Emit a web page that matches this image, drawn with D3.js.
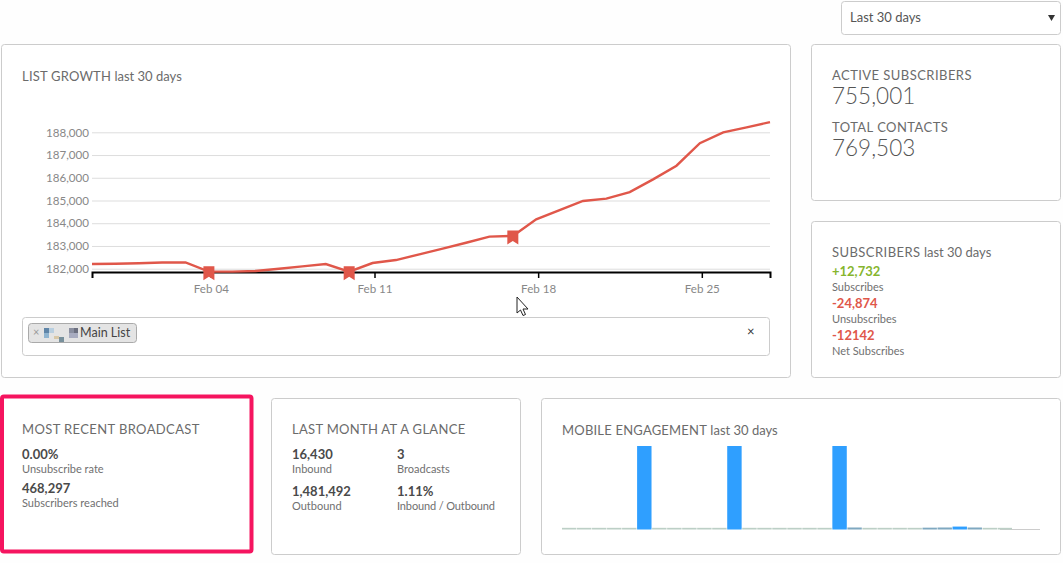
<!DOCTYPE html>
<html>
<head>
<meta charset="utf-8">
<script src="https://cdn.jsdelivr.net/npm/d3@7"></script>
<style>
  body { margin: 0; background: #fefefe; }
  svg { display: block; }
  text { font-family: Lato, "Open Sans", sans-serif; }
  .title { font-size: 13px; fill: #6b6b6b; }
  .num { font-size: 13px; font-weight: 700; fill: #4a4a4a; }
  .sub { font-size: 11px; fill: #707070; }
  .big { font-size: 22.5px; font-weight: 300; fill: #555; }
  .axis text { font-size: 11.6px; fill: #888; }
</style>
</head>
<body>
<svg id="chart" width="1063" height="563"></svg>
<script>
// list growth, one value per day
var growthDays = ["01-30","01-31","02-01","02-02","02-03","02-04","02-05","02-06","02-07","02-08",
  "02-09","02-10","02-11","02-12","02-13","02-14","02-15","02-16","02-17","02-18",
  "02-19","02-20","02-21","02-22","02-23","02-24","02-25","02-26","02-27","02-28"];
var growthValues = [182207,182215,182240,182270,182280,181870,181870,181900,182000,182100,
  182205,181870,182250,182380,182630,182880,183140,183410,183440,184170,
  184580,184980,185080,185370,185930,186530,187520,188000,188220,188450];
var bookmarkDays = ["02-04","02-10","02-17"];
var yTicks = [182000,183000,184000,185000,186000,187000,188000];
var xTickDays = ["02-04","02-11","02-18","02-25"];

// mobile engagement bars
var mobileValues = [2,2,2,2,2,100,2,2,2,2,2,100,2,2,2,2,2,2,100,2.4,2,2,2,2,2.2,2.4,3.5,2.4,2,2];
var mobileColors = ["#bccfc6","#7fa8c0","#2f9fff"];

var parseDay = d3.utcParse("%Y-%m-%d");
function day(s) { return parseDay("2018-" + s); }

var svg = d3.select("#chart");

var panels = [
  [1,44,789,333], [811,44,249,156], [811,221,249,156],
  [271,398,249,156], [541,398,519,156]
];
svg.selectAll("rect.panel").data(panels).enter().append("rect")
  .attr("class", "panel")
  .attr("x", d => d[0] + 0.5).attr("y", d => d[1] + 0.5)
  .attr("width", d => d[2]).attr("height", d => d[3])
  .attr("rx", 3)
  .attr("fill", "#fff").attr("stroke", "#ccc");

// highlighted box
svg.append("rect").attr("x", 2).attr("y", 396.5).attr("width", 249.5).attr("height", 155)
  .attr("rx", 2).attr("fill", "#fff").attr("stroke", "#f5145f").attr("stroke-width", 4);

// period select
svg.append("rect").attr("x", 841.5).attr("y", 1.5).attr("width", 219).attr("height", 33)
  .attr("rx", 3).attr("fill", "#fff").attr("stroke", "#ccc");
svg.append("text").attr("x", 850).attr("y", 22).attr("font-size", 13).attr("fill", "#555").text("Last 30 days");
svg.append("path").attr("d", "M1048,15h7l-3.5,6z").attr("fill", "#333");

function label(x, y, cls, txt, color) {
  var t = svg.append("text").attr("x", x).attr("y", y).attr("class", cls).text(txt);
  if (color) t.style("fill", color);
  return t;
}

// caps part is tracked out, the "last 30 days" part is not
function title(x, y, caps, spacing, rest) {
  var t = svg.append("text").attr("x", x).attr("y", y).attr("class", "title");
  t.append("tspan").attr("letter-spacing", spacing).text(caps);
  if (rest) t.append("tspan").text(" " + rest);
}

title(22, 81, "LIST GROWTH", 0.2, "last 30 days");
title(832, 80, "ACTIVE SUBSCRIBERS", 0.45);
label(832, 104, "big", "755,001");
title(832, 132, "TOTAL CONTACTS", 0.45);
label(832, 156, "big", "769,503");
title(832, 257, "SUBSCRIBERS", 0.45, "last 30 days");
label(832, 276, "num", "+12,732", "#86b52e");
label(832, 291, "sub", "Subscribes");
label(832, 308, "num", "-24,874", "#e0574a");
label(832, 323, "sub", "Unsubscribes");
label(832, 340, "num", "-12142", "#e0574a");
label(832, 355, "sub", "Net Subscribes");

title(22, 434, "MOST RECENT BROADCAST", 0.38);
label(22, 459, "num", "0.00%");
label(22, 473, "sub", "Unsubscribe rate");
label(22, 493, "num", "468,297");
label(22, 507, "sub", "Subscribers reached");

title(292, 434, "LAST MONTH AT A GLANCE", 0.3);
label(292, 459, "num", "16,430");
label(292, 473, "sub", "Inbound");
label(397, 459, "num", "3");
label(397, 473, "sub", "Broadcasts");
label(292, 496, "num", "1,481,492");
label(292, 510, "sub", "Outbound");
label(397, 496, "num", "1.11%");
label(397, 510, "sub", "Inbound / Outbound").attr("textLength", 98);

title(562, 435, "MOBILE ENGAGEMENT", 0.2, "last 30 days");

// list growth chart
var x = d3.scaleUtc().domain([day("01-30"), day("02-28")]).range([92, 770]);
var y = d3.scaleLinear().domain([182000, 188000]).range([268.7, 132.3]);

var yAxis = d3.axisLeft(y).tickValues(yTicks).tickSize(-678).tickPadding(3).tickFormat(d3.format(","));
var gy = svg.append("g").attr("class", "axis").attr("transform", "translate(92,0)").call(yAxis);
gy.select(".domain").remove();
gy.selectAll("line").attr("stroke", "#ddd");

// ticks sit about two hours after midnight in the original
var xAxis = d3.axisBottom(x)
  .tickValues(xTickDays.map(d => d3.utcHour.offset(day(d), 2)))
  .tickSize(6).tickPadding(5)
  .tickFormat(d3.utcFormat("%b %d"));
var gx = svg.append("g").attr("class", "axis").attr("transform", "translate(0,272)").call(xAxis);
gx.select(".domain").attr("stroke", "#000").attr("stroke-width", 2);
gx.selectAll("line").attr("stroke", "#000").attr("stroke-width", 1.5);
gx.selectAll("text").attr("dy", "0.9em");

var growth = growthDays.map((d, i) => ({ day: d, date: day(d), value: growthValues[i] }));
var line = d3.line().x(d => x(d.date)).y(d => y(d.value));
svg.append("path").datum(growth).attr("d", line)
  .attr("fill", "none").attr("stroke", "#e0574a").attr("stroke-width", 2.4);

svg.selectAll("path.bookmark")
  .data(growth.filter(d => bookmarkDays.indexOf(d.day) >= 0))
  .enter().append("path")
  .attr("class", "bookmark")
  .attr("transform", d => "translate(" + x(d.date) + "," + y(d.value) + ")")
  .attr("d", "M-5.5,-5.5H5.5V8.5L0,5L-5.5,8.5Z")
  .attr("fill", "#e0574a");

// list filter box
svg.append("rect").attr("x", 22.5).attr("y", 317.5).attr("width", 747).attr("height", 38)
  .attr("rx", 3).attr("fill", "#fff").attr("stroke", "#ccc");
svg.append("rect").attr("x", 28.5).attr("y", 323.5).attr("width", 108).attr("height", 19)
  .attr("rx", 3).attr("fill", "#e4e4e4").attr("stroke", "#aaa");
svg.append("text").attr("x", 33).attr("y", 336).attr("font-size", 11).attr("fill", "#999").text("×");
var blurred = [[44,328,5,5,"#5f85a8"],[44,333,5,5,"#8fb4d0"],[49,328,5,5,"#b9cfe0"],[54,336,5,3,"#d8c8a8"],
  [59,337,5,5,"#78909c"],[69,328,5,5,"#8a8fa0"],[74,328,4,5,"#6c7080"],[69,333,9,5,"#a8acc0"]];
svg.selectAll("rect.blur").data(blurred).enter().append("rect")
  .attr("class", "blur")
  .attr("x", d => d[0]).attr("y", d => d[1]).attr("width", d => d[2]).attr("height", d => d[3])
  .attr("fill", d => d[4]);
svg.append("text").attr("x", 80).attr("y", 337).attr("font-size", 12.5).attr("fill", "#444").text("Main List");
svg.append("text").attr("x", 747).attr("y", 336).attr("font-size", 13).attr("fill", "#333").text("×");

// mouse cursor from the screenshot
svg.append("path").attr("d", "M517,297V313L520.5,310L523,315.5L525.5,314.5L523,309H528Z")
  .attr("fill", "#fff").attr("stroke", "#222").attr("stroke-width", 1);

// mobile engagement chart
var bx = d3.scaleBand().domain(d3.range(mobileValues.length)).range([562, 1012]).paddingInner(0.04);
var by = d3.scaleLinear().domain([0, 100]).range([529.5, 446]);
var color = d3.scaleThreshold().domain([2.1, 3]).range(mobileColors);

svg.append("line").attr("x1", 1000).attr("x2", 1040).attr("y1", 529.5).attr("y2", 529.5).attr("stroke", "#ccc");
svg.selectAll("rect.bar").data(mobileValues).enter().append("rect")
  .attr("class", "bar")
  .attr("x", (d, i) => bx(i)).attr("width", bx.bandwidth())
  .attr("y", d => by(d)).attr("height", d => by(0) - by(d))
  .attr("fill", d => color(d));
</script>
</body>
</html>
